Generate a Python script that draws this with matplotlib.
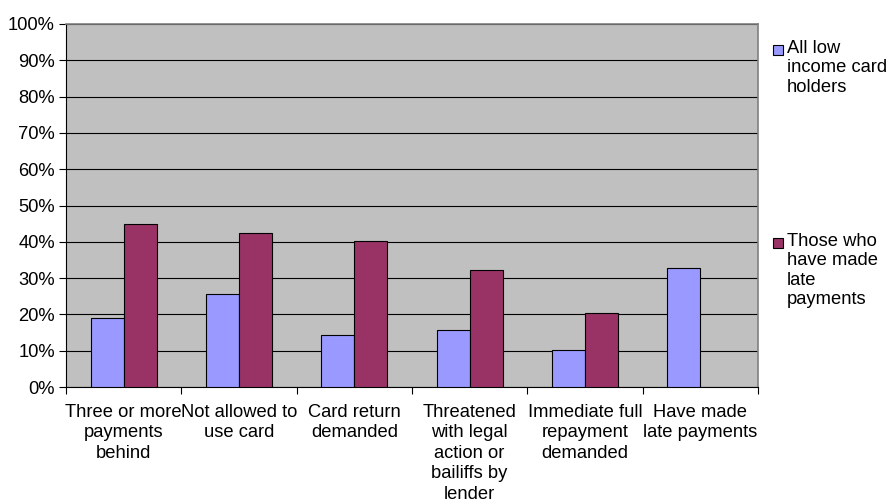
import numpy as np
import matplotlib
matplotlib.use('Agg')
import matplotlib.pyplot as plt
from matplotlib.patches import Rectangle
from matplotlib.ticker import PercentFormatter

plt.rcParams['font.family'] = ['Liberation Sans', 'DejaVu Sans']
fs = 13.2

# data (percent)
categories = ['Three or more\npayments\nbehind', 'Not allowed to\nuse card', 'Card return\ndemanded',
              'Threatened\nwith legal\naction or\nbailiffs by\nlender',
              'Immediate full\nrepayment\ndemanded', 'Have made\nlate payments']
all_low_income = [19.0, 25.7, 14.3, 15.8, 10.3, 32.9]
late_payers = [44.8, 42.3, 40.1, 32.1, 20.4, np.nan]
series_names = ['All low\nincome card\nholders', 'Those who\nhave made\nlate\npayments']
colors = ['#9999FF', '#993366']

fig = plt.figure(figsize=(8.88, 5.04), dpi=100)
ax = fig.add_axes([66/888, 1-387/504, (758-66)/888, (387-24)/504])
ax.set_facecolor('#C0C0C0')

x = np.arange(len(categories))
w = 1/3.5
ax.bar(x - w/2, all_low_income, w, color=colors[0], edgecolor='black', linewidth=0.8, zorder=3)
ax.bar(x + w/2, late_payers, w, color=colors[1], edgecolor='black', linewidth=0.8, zorder=3)

ax.set_xlim(-0.5, len(categories)-0.5)
ax.set_ylim(0, 100)
ax.set_yticks(np.arange(0, 101, 10))
ax.yaxis.set_major_formatter(PercentFormatter(decimals=0))
ax.yaxis.grid(True, color='black', linewidth=0.8, zorder=1)
ax.set_axisbelow(True)

# category boundary ticks on x axis, labels centred under groups
ax.set_xticks(np.arange(len(categories)+1) - 0.5)
ax.set_xticklabels([])
ax.set_xticks(x, minor=True)
ax.set_xticklabels(categories, minor=True, fontsize=fs, linespacing=1.27, va='top')
ax.tick_params(axis='x', which='minor', length=0, pad=12)
ax.tick_params(axis='x', which='major', length=5, width=0.8, direction='out')
ax.tick_params(axis='y', length=5, width=0.8, labelsize=fs, pad=3)

for s in ['top', 'right']:
    ax.spines[s].set_color('#808080')
    ax.spines[s].set_linewidth(1.2)
for s in ['left', 'bottom']:
    ax.spines[s].set_color('black')
    ax.spines[s].set_linewidth(0.8)

# legend drawn the way the spreadsheet lays it out
leg_y = [50, 243]
for name, c, yy in zip(series_names, colors, leg_y):
    fig.patches.append(Rectangle((773/888, 1-(yy+5)/504), 9.5/888, 9.5/504, transform=fig.transFigure,
                                 facecolor=c, edgecolor='black', linewidth=0.8))
    fig.text(787/888, 1-(yy-10)/504, name, fontsize=fs, va='top', ha='left', linespacing=1.18)

fig.savefig('out.png', dpi=100)
